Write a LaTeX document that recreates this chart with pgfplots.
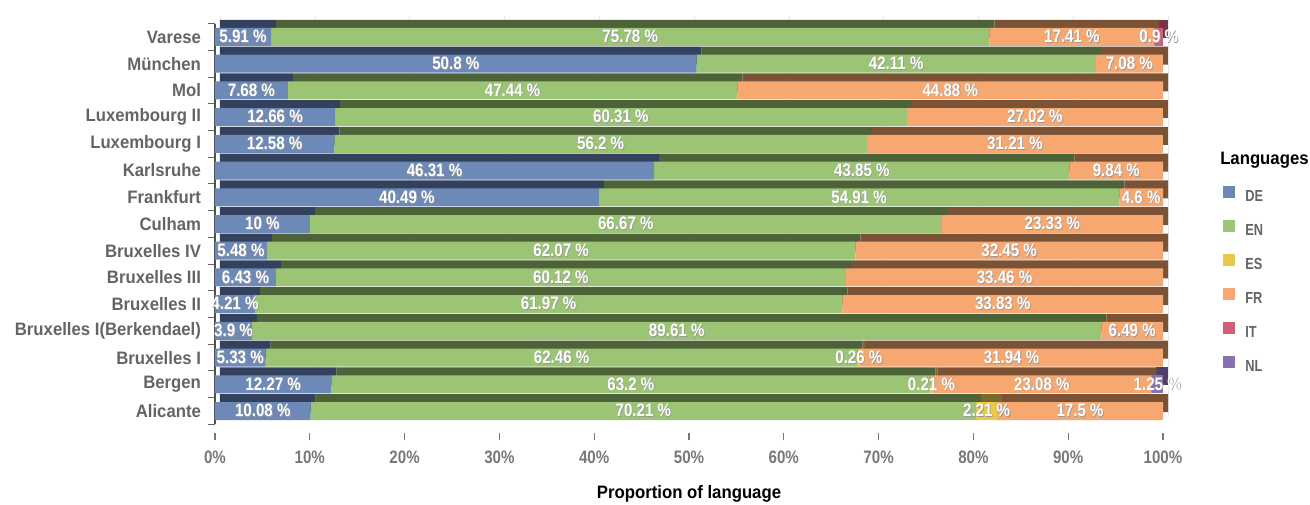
\documentclass[border=0pt]{standalone}
\usepackage{pgfplots}
\pgfplotsset{compat=1.18}
\usepackage{pgfplotstable}
\usepackage{fontspec}
\setmainfont{Liberation Sans}
\newfontfamily\fA{Liberation Sans}[FakeStretch=0.93]
\newfontfamily\fB{Liberation Sans}[FakeStretch=0.84]
\newfontfamily\fC{Liberation Sans}[FakeStretch=0.80]
\newcommand\shadowed[1]{\makebox[0pt][l]{\kern0.6pt\raisebox{-0.6pt}{\color{black!40}#1}}#1}

\definecolor{cDE}{RGB}{109,137,184}
\definecolor{cEN}{RGB}{155,197,117}
\definecolor{cES}{RGB}{233,200,74}
\definecolor{cFR}{RGB}{246,168,112}
\definecolor{cIT}{RGB}{208,96,122}
\definecolor{cNL}{RGB}{138,112,176}
\definecolor{dDE}{RGB}{51,65,92}
\definecolor{dEN}{RGB}{77,98,56}
\definecolor{dES}{RGB}{122,106,42}
\definecolor{dFR}{RGB}{122,82,54}
\definecolor{dIT}{RGB}{122,51,68}
\definecolor{dNL}{RGB}{79,63,102}
\definecolor{labgray}{RGB}{100,100,100}
\definecolor{tickgray}{RGB}{120,120,120}

\pgfplotstableread{
idx DE EN ES FR IT NL
0 10.08 70.21 2.21 17.5 0 0
1 12.27 63.2 0.21 23.08 0 1.25
2 5.33 62.46 0.26 31.94 0 0
3 3.9 89.61 0 6.49 0 0
4 4.21 61.97 0 33.83 0 0
5 6.43 60.12 0 33.46 0 0
6 5.48 62.07 0 32.45 0 0
7 10 66.67 0 23.33 0 0
8 40.49 54.91 0 4.6 0 0
9 46.31 43.85 0 9.84 0 0
10 12.58 56.2 0 31.21 0 0
11 12.66 60.31 0 27.02 0 0
12 7.68 47.44 0 44.88 0 0
13 50.8 42.11 0 7.08 0 0
14 5.91 75.78 0 17.41 0.9 0
}\datatable

\pgfplotsset{commonaxis/.style={
  xbar stacked, scale only axis, width=711pt, height=300.6pt,
  xmin=0, xmax=100, ymin=-0.5, ymax=14.5, bar width=13.5pt,
  anchor=south west,
}}

\begin{document}
\begin{tikzpicture}
% back layer: 3D top and side faces
\begin{axis}[commonaxis, at={(3.75pt,6pt)},
  axis line style={draw=none},
  xtick={0,10,...,100}, xticklabels={}, ytick=\empty,
  major tick length=0pt, xmajorgrids, grid style={gray!18},
]
\addplot[fill=dDE, draw=none] table[x=DE,y=idx]{\datatable};
\addplot[fill=dEN, draw=none] table[x=EN,y=idx]{\datatable};
\addplot[fill=dES, draw=none] table[x=ES,y=idx]{\datatable};
\addplot[fill=dFR, draw=none] table[x=FR,y=idx]{\datatable};
\addplot[fill=dIT, draw=none] table[x=IT,y=idx]{\datatable};
\addplot[fill=dNL, draw=none] table[x=NL,y=idx]{\datatable};
\end{axis}
% front layer
\begin{axis}[commonaxis, at={(0pt,0pt)}, clip=false,
  axis lines*=left,
  x axis line style={draw=none},
  y axis line style={draw=labgray!80!black, line width=1pt},
  tick align=outside,
  xtick={0,10,...,100},
  xticklabels={0\%,10\%,20\%,30\%,40\%,50\%,60\%,70\%,80\%,90\%,100\%},
  ytick={0,...,14},
  yticklabels={Alicante,Bergen,Bruxelles I,Bruxelles I(Berkendael),Bruxelles II,Bruxelles III,Bruxelles IV,Culham,Frankfurt,Karlsruhe,Luxembourg I,Luxembourg II,Mol,München,Varese},
  minor ytick={-0.5,0.5,...,14.5},
  major tick length=5pt, minor tick length=5pt,
  every major y tick/.append style={draw=none},
  every minor y tick/.append style={draw=labgray, line width=0.8pt},
  every major x tick/.append style={draw=tickgray, line width=0.8pt, yshift=-6.75pt},
  yticklabel style={font=\fA\bfseries\fontsize{13.5}{15}\selectfont, text=labgray, xshift=-2pt},
  xticklabel style={font=\fB\bfseries\fontsize{13.5}{15}\selectfont, text=tickgray, yshift=-11pt},
  xlabel={Proportion of language},
  every axis x label/.style={at={(axis description cs:0.5,0)}, anchor=center, yshift=-51.75pt, font=\fA\bfseries\fontsize{13.5}{15}\selectfont},
  point meta=explicit,
  nodes near coords={\pgfmathfloatifflags{\pgfplotspointmeta}{0}{}{\shadowed{\pgfmathprintnumber[assume math mode=true]{\pgfplotspointmeta}\ \%}}},
  every node near coord/.append style={anchor=center, text=white, inner sep=0pt, font=\fB\bfseries\fontsize{13.5}{15}\selectfont},
  legend style={at={(rel axis cs:1.0633,0.595)}, anchor=north west, draw=none, fill=none, inner sep=0pt, row sep=13pt, column sep=7.5pt,
    nodes={inner sep=0pt, text height=8pt, text depth=1pt, text=labgray, font=\fC\bfseries\fontsize{12}{13}\selectfont}},
  legend cell align=left,
  legend image code/.code={\path[#1, draw=none] (0pt,-1pt) rectangle (9pt,8pt);},
]
\addplot[fill=cDE, draw=none] table[x=DE,y=idx,meta=DE]{\datatable};
\addplot[fill=cEN, draw=none] table[x=EN,y=idx,meta=EN]{\datatable};
\addplot[fill=cES, draw=none] table[x=ES,y=idx,meta=ES]{\datatable};
\addplot[fill=cFR, draw=none] table[x=FR,y=idx,meta=FR]{\datatable};
\addplot[fill=cIT, draw=none] table[x=IT,y=idx,meta=IT]{\datatable};
\addplot[fill=cNL, draw=none] table[x=NL,y=idx,meta=NL]{\datatable};
\legend{DE,EN,ES,FR,IT,NL}
\node[anchor=west, inner sep=0pt, font=\fA\bfseries\fontsize{13.5}{15}\selectfont] at (rel axis cs:1.0601,0.6597) {Languages};
\end{axis}
\pgfresetboundingbox
\useasboundingbox (-161.25pt,-59.7pt) rectangle (821.25pt,318.3pt);
\end{tikzpicture}
\end{document}
